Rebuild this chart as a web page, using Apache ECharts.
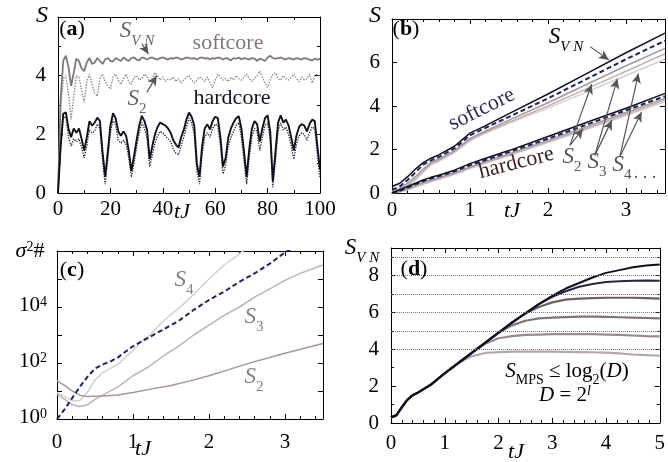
<!DOCTYPE html>
<html><head><meta charset="utf-8">
<script src="https://cdn.jsdelivr.net/npm/echarts@6/dist/echarts.min.js"></script>
<style>html,body{margin:0;padding:0;background:#fff}#c{width:668px;height:462px}</style>
</head><body><div id="c"></div>
<script>
// ---------- Panel (a) ----------
const tA = [0,1,2,3,4,5,6,7,8,9,10,11,12,13,14,15,16,17,18,19,20,21,22,23,24,25,26,27,28,29,30,31,32,33,34,35,36,37,38,39,40,41,42,43,44,45,46,47,48,49,50,51,52,53,54,55,56,57,58,59,60,61,62,63,64,65,66,67,68,69,70,71,72,73,74,75,76,77,78,79,80,81,82,83,84,85,86,87,88,89,90,91,92,93,94,95,96,97,98,99,100];
const softSvnA = [0,3.2,4.5,4.68,4.3,3.65,4.1,4.58,4.5,4.25,4.15,4.45,4.6,4.4,4.45,4.6,4.5,4.4,4.55,4.6,4.5,4.48,4.6,4.55,4.5,4.62,4.55,4.5,4.6,4.62,4.55,4.52,4.62,4.6,4.55,4.6,4.62,4.57,4.55,4.6,4.62,4.58,4.55,4.6,4.58,4.62,4.6,4.55,4.58,4.62,4.6,4.58,4.6,4.55,4.6,4.62,4.58,4.6,4.55,4.6,4.58,4.62,4.6,4.55,4.6,4.58,4.52,4.6,4.58,4.62,4.55,4.6,4.58,4.55,4.6,4.58,4.5,4.58,4.55,4.5,4.62,4.68,4.6,4.58,4.6,4.62,4.58,4.55,4.6,4.58,4.55,4.6,4.58,4.55,4.6,4.58,4.55,4.52,4.58,4.55,4.57];
const softS2A = [0,2.8,3.9,4.0,3.4,2.5,3.3,4.0,3.95,3.5,3.1,3.8,4.05,3.7,3.4,3.3,3.9,4.05,3.8,3.65,3.55,3.95,4.05,3.85,3.7,3.9,4.05,3.8,3.7,3.95,4.0,3.85,3.9,4.05,3.95,3.8,3.9,4.1,4.0,3.85,3.95,3.8,3.9,3.85,3.95,3.8,3.9,3.75,3.85,3.95,4.0,3.85,3.75,3.85,3.95,3.9,3.8,3.95,3.75,3.6,3.85,4.05,3.95,3.85,3.9,3.8,3.95,3.85,4.0,3.9,3.85,3.95,4.05,3.9,3.8,3.9,4.0,4.15,3.95,3.75,3.6,3.85,4.05,4.1,3.9,3.85,4.0,3.9,3.85,3.95,4.05,3.9,3.8,3.95,3.85,3.9,4.05,3.75,4.0,4.05,3.95];
const hardSvnA = [0,1.6,2.7,2.75,2.2,1.9,2.2,2.05,2.2,1.85,1.45,1.9,2.45,2.3,2.4,2.57,2.45,1.4,0.55,1.4,2.3,2.72,2.55,2.1,1.95,2.1,1.95,1.45,0.75,1.25,1.8,2.3,2.63,2.45,2.15,1.15,1.6,2.0,2.25,2.4,2.35,2.3,2.2,2.05,1.8,1.65,1.55,1.9,2.15,2.5,2.74,2.6,2.3,1.0,0.55,1.6,2.2,2.34,2.17,2.45,2.6,2.55,1.9,0.9,1.2,1.9,2.2,2.4,2.55,2.62,2.2,1.4,0.55,1.5,2.2,2.45,2.35,1.75,2.2,2.55,2.65,2.1,0.4,1.4,2.4,2.65,2.4,2.5,2.3,1.9,1.45,1.95,2.25,2.35,2.3,2.1,2.35,2.5,2.45,1.6,0.8];
const hardS2A = [0,1.4,2.55,2.6,1.9,1.6,1.85,1.75,1.85,1.55,1.2,1.6,2.15,2.05,2.1,2.35,2.2,1.1,0.3,1.15,2.05,2.5,2.3,1.8,1.7,1.8,1.65,1.2,0.55,1.0,1.55,2.05,2.4,2.2,1.85,0.9,1.3,1.7,1.95,2.1,2.05,1.95,1.85,1.75,1.5,1.35,1.3,1.6,1.9,2.25,2.55,2.4,2.0,0.75,0.3,1.3,1.9,2.05,1.9,2.2,2.35,2.3,1.6,0.65,0.95,1.6,1.9,2.1,2.3,2.4,1.9,1.1,0.3,1.2,1.9,2.2,2.1,1.45,1.9,2.3,2.4,1.8,0.2,1.1,2.1,2.4,2.15,2.25,2.0,1.6,1.15,1.65,1.95,2.05,2.0,1.8,2.05,2.25,2.2,1.3,0.5];

// ---------- Panel (b) ----------
const tB = [0,0.1,0.2,0.3,0.4,0.5,0.6,0.8,1.0,1.2,1.5,2.0,2.5,3.0,3.5];
const softSvnB = [0.3,0.45,0.75,1.1,1.4,1.6,1.75,2.15,2.75,3.1,3.65,4.55,5.5,6.45,7.35];
const softDashB = [0.15,0.3,0.6,0.95,1.3,1.5,1.65,2.05,2.65,3.0,3.5,4.35,5.25,6.15,7.0];
const softS2B = [0.1,0.2,0.45,0.75,1.1,1.4,1.55,1.95,2.5,2.85,3.35,4.15,5.0,5.85,6.65];
const softS3B = [0.05,0.15,0.35,0.65,1.0,1.35,1.5,1.9,2.45,2.8,3.25,4.0,4.8,5.6,6.4];
const softS4B = [0.05,0.1,0.3,0.6,0.95,1.3,1.45,1.85,2.4,2.75,3.2,3.9,4.65,5.4,6.15];
const hardSvnB = [0,0.15,0.3,0.45,0.6,0.72,0.82,1.05,1.35,1.6,1.95,2.6,3.25,3.9,4.58];
const hardDashB = [0,0.1,0.25,0.4,0.55,0.67,0.77,1.0,1.28,1.52,1.88,2.5,3.15,3.8,4.45];
const hardS2B = [0,0.08,0.2,0.35,0.48,0.6,0.7,0.93,1.2,1.45,1.8,2.42,3.05,3.7,4.35];
const hardS3B = [0,0.06,0.17,0.3,0.43,0.55,0.65,0.88,1.15,1.4,1.75,2.36,2.98,3.62,4.27];
const hardS4B = [0,0.05,0.15,0.27,0.4,0.52,0.62,0.85,1.12,1.37,1.72,2.32,2.93,3.56,4.2];

// ---------- Panel (c) ----------
const tCdash = [0,0.1,0.2,0.3,0.4,0.5,0.6,0.7,0.8,0.9,1.0,1.2,1.4,1.6,1.8,2.0,2.2,2.4,2.6,2.8,3.0,3.1];
const cDash = [1,2.2,5.6,14,32,63,89,112,158,251,398,794,1585,3162,7943,17783,35481,79433,158489,354813,891251,1258925];
const tCs4 = [0,0.1,0.2,0.3,0.4,0.5,0.6,0.8,1.0,1.1,1.2,1.4,1.6,1.8,2.0,2.2,2.4,2.5];
const cS4 = [8.9,6.3,4.5,4.5,8.9,25,45,89,282,562,891,3162,8913,28184,100000,316228,794328,1258925];
const tCs3 = [0,0.1,0.2,0.3,0.4,0.5,0.6,0.8,1.0,1.2,1.4,1.6,1.8,2.0,2.2,2.4,2.6,2.8,3.0,3.2,3.5];
const cS3 = [7.9,5.0,3.2,2.8,3.2,5.0,7.1,14,35,71,178,398,1000,2239,5012,10000,22387,44668,89125,158489,316228];
const tCs2 = [0,0.1,0.2,0.3,0.4,0.6,0.8,1.0,1.2,1.5,1.8,2.0,2.3,2.6,3.0,3.5];
const cS2 = [23,16,10,7.1,6.3,6.6,7.2,8.9,11.2,15.8,25,35,63,112,224,501];

// ---------- Panel (d) ----------
const tD = [0,0.1,0.2,0.3,0.4,0.5,0.75,1,1.25,1.5,1.75,2,2.25,2.5,2.75,3,3.25,3.5,3.75,4,4.25,4.5,4.75,5];
const dCurve1 = [0.3,0.42,0.85,1.25,1.5,1.65,2.1,2.7,3.25,3.8,4.35,4.9,5.45,5.95,6.45,6.9,7.3,7.6,7.9,8.15,8.3,8.45,8.55,8.6];
const dCurve2 = [0.3,0.42,0.85,1.25,1.5,1.65,2.1,2.7,3.25,3.8,4.35,4.9,5.45,5.95,6.45,6.85,7.15,7.4,7.55,7.65,7.7,7.72,7.73,7.72];
const dCurve3 = [0.3,0.42,0.85,1.25,1.5,1.65,2.1,2.7,3.25,3.8,4.35,4.9,5.45,5.95,6.3,6.55,6.7,6.75,6.78,6.8,6.8,6.8,6.78,6.75];
const dCurve4 = [0.3,0.42,0.85,1.25,1.5,1.65,2.1,2.7,3.25,3.8,4.35,4.9,5.3,5.55,5.68,5.72,5.75,5.78,5.78,5.76,5.74,5.72,5.7,5.68];
const dCurve5 = [0.3,0.42,0.85,1.25,1.5,1.65,2.1,2.7,3.25,3.8,4.3,4.6,4.72,4.78,4.8,4.82,4.83,4.83,4.82,4.8,4.78,4.75,4.72,4.7];
const dCurve6 = [0.3,0.42,0.85,1.25,1.5,1.65,2.1,2.7,3.25,3.62,3.8,3.85,3.87,3.88,3.88,3.87,3.86,3.85,3.84,3.82,3.78,3.72,3.68,3.65];
const dLevels = [4,5,6,7,8,9];

// ---------- helpers ----------
const FONT = 'Liberation Serif';
const pair = (xs, ys) => xs.map((x, i) => [x, ys[i]]);

function xAxes(grid, min, max, interval, minorSplit, labelMargin, labelOk) {
  const base = {
    gridIndex: grid, type: 'value', min, max, interval,
    axisLine: {show: true, onZero: false, lineStyle: {color: '#000', width: 1}},
    axisTick: {show: true, inside: true, length: 5, lineStyle: {color: '#000'}},
    minorTick: {show: minorSplit > 0, splitNumber: minorSplit || 5, length: 3, lineStyle: {color: '#000'}},
    splitLine: {show: false}, minorSplitLine: {show: false}
  };
  return [
    Object.assign({}, base, {position: 'bottom',
      axisLabel: {show: true, margin: labelMargin, fontFamily: FONT, fontSize: 21, color: '#000',
        formatter: v => labelOk(v) ? String(v) : ''}}),
    Object.assign({}, base, {position: 'top', axisLabel: {show: false}})
  ];
}
function yAxes(grid, min, max, interval, minorSplit, labelOk) {
  const base = {
    gridIndex: grid, type: 'value', min, max, interval,
    axisLine: {show: true, onZero: false, lineStyle: {color: '#000', width: 1}},
    axisTick: {show: true, inside: true, length: 5, lineStyle: {color: '#000'}},
    minorTick: {show: minorSplit > 0, splitNumber: minorSplit || 5, length: 3, lineStyle: {color: '#000'}},
    splitLine: {show: false}, minorSplitLine: {show: false}
  };
  return [
    Object.assign({}, base, {position: 'left',
      axisLabel: {show: true, margin: 12, fontFamily: FONT, fontSize: 21, color: '#000',
        formatter: v => labelOk(v) ? String(v) : ''}}),
    Object.assign({}, base, {position: 'right', axisLabel: {show: false}})
  ];
}
function logYAxes(grid) {
  const base = {
    gridIndex: grid, type: 'log', logBase: 10, min: 1, max: 1e6, splitNumber: 6,
    axisLine: {show: true, onZero: false, lineStyle: {color: '#000', width: 1}},
    axisTick: {show: true, inside: true, length: 5, lineStyle: {color: '#000'}},
    minorTick: {show: false},
    splitLine: {show: false}
  };
  return [
    Object.assign({}, base, {position: 'left',
      axisLabel: {show: true, margin: 10, color: '#000',
        formatter: v => {
          const e = Math.round(Math.log10(v));
          return (e === 0 || e === 2 || e === 4) ? '{b|10}{s|' + e + '}' : '';
        },
        rich: {
          b: {fontFamily: FONT, fontSize: 21, lineHeight: 24, verticalAlign: 'top'},
          s: {fontFamily: FONT, fontSize: 14, lineHeight: 14, verticalAlign: 'top'}
        }}}),
    Object.assign({}, base, {position: 'right', axisLabel: {show: false}})
  ];
}

const isInt = v => Math.abs(v - Math.round(v)) < 1e-9;
const xs = [].concat(
  xAxes(0, 0, 100, 20, 2, 6, v => true),
  xAxes(1, 0, 3.5, 1, 5, 7, v => isInt(v)),
  xAxes(2, 0, 3.5, 1, 5, 13, v => isInt(v)),
  xAxes(3, 0, 5, 1, 5, 10, v => isInt(v))
);
const ys = [].concat(
  yAxes(0, 0, 6, 2, 2, v => v < 6),
  yAxes(1, 0, 8, 2, 0, v => v < 8),
  logYAxes(2),
  yAxes(3, 0, 9.5, 2, 2, v => isInt(v) && v % 2 === 0)
);

function line(xi, yi, data, color, width, type, z) {
  return {type: 'line', xAxisIndex: xi, yAxisIndex: yi, data, showSymbol: false, symbol: 'none',
    clip: true, animation: false, silent: true, z: z || 2,
    lineStyle: {color, width, type: type || 'solid'}};
}
const arrowStyle = {silent: true, symbol: ['none', 'arrow'], symbolSize: [7, 10], animation: false,
  lineStyle: {color: '#555', width: 1.2, type: 'solid'}, label: {show: false}, emphasis: {disabled: true}};
const arr = (x1, y1, x2, y2) => [{coord: [x1, y1]}, {coord: [x2, y2]}];

const BLACK = '#0f0f22', NAVY = '#1b2462';
const G2 = '#a89494', G3 = '#c2b1b1', G4 = '#d9cdcd';

const series = [
  // (a)
  line(0, 0, pair(tA, softS2A), '#948585', 1.4, 'dotted', 2),
  line(0, 0, pair(tA, hardS2A), '#222230', 1.3, 'dotted', 2),
  Object.assign(line(0, 0, pair(tA, softSvnA), '#857676', 1.8, 'solid', 3), {
    markLine: Object.assign({}, arrowStyle, {data: [arr(32, 5.09, 34.5, 4.74), arr(33.9, 3.43, 37.7, 4.0)]})
  }),
  line(0, 0, pair(tA, hardSvnA), BLACK, 1.9, 'solid', 3),
  // (b)
  line(2, 2, pair(tB, softS4B), G4, 1.5), line(2, 2, pair(tB, softS3B), G3, 1.5), line(2, 2, pair(tB, softS2B), G2, 1.5),
  line(2, 2, pair(tB, hardS4B), G4, 1.5), line(2, 2, pair(tB, hardS3B), G3, 1.5), line(2, 2, pair(tB, hardS2B), G2, 1.5),
  line(2, 2, pair(tB, softDashB), NAVY, 2, [5, 3], 3),
  line(2, 2, pair(tB, hardDashB), NAVY, 2, [5, 3], 3),
  Object.assign(line(2, 2, pair(tB, softSvnB), BLACK, 1.5, 'solid', 4), {
    markLine: Object.assign({}, arrowStyle, {data: [
      arr(2.54, 6.73, 2.78, 6.12),
      arr(2.28, 2.19, 2.56, 5.0), arr(2.28, 2.19, 2.45, 2.95),
      arr(2.6, 1.73, 2.89, 5.25), arr(2.6, 1.73, 2.82, 3.35),
      arr(2.92, 1.65, 3.16, 5.5), arr(2.92, 1.65, 3.2, 3.72)
    ]})
  }),
  line(2, 2, pair(tB, hardSvnB), BLACK, 1.5, 'solid', 4),
  // (c)
  line(4, 4, pair(tCs4, cS4), G4, 1.5),
  line(4, 4, pair(tCs3, cS3), G3, 1.5),
  line(4, 4, pair(tCs2, cS2), G2, 1.5),
  line(4, 4, pair(tCdash, cDash), NAVY, 2, [5, 3], 3),
  // (d)
  Object.assign(line(6, 6, pair(tD, dCurve6), '#b6a6a6', 2.2), {
    markLine: {silent: true, symbol: ['none', 'none'], animation: false, label: {show: false},
      lineStyle: {color: '#777', width: 1, type: 'dotted'}, data: dLevels.map(v => ({yAxis: v}))}
  }),
  line(6, 6, pair(tD, dCurve5), '#9a8a8a', 2.2),
  line(6, 6, pair(tD, dCurve4), '#837272', 2.2),
  line(6, 6, pair(tD, dCurve3), '#705f5f', 2.2),
  line(6, 6, pair(tD, dCurve2), '#26263f', 2, 'solid', 3),
  line(6, 6, pair(tD, dCurve1), BLACK, 2, 'solid', 4)
];

// text annotations
const mathRich = (color, size) => ({
  i: {fontFamily: FONT, fontStyle: 'italic', fontSize: size, lineHeight: size + 6, verticalAlign: 'top', fill: color, color},
  n: {fontFamily: FONT, fontSize: size, lineHeight: size + 6, verticalAlign: 'top', fill: color, color},
  b: {fontFamily: FONT, fontWeight: 'bold', fontSize: size, lineHeight: size + 6, verticalAlign: 'top', fill: color, color},
  si: {fontFamily: FONT, fontStyle: 'italic', fontSize: Math.round(size * 0.65), lineHeight: 16, padding: [Math.round(size * 0.6), 0, 0, 0], verticalAlign: 'top', fill: color, color},
  sn: {fontFamily: FONT, fontSize: Math.round(size * 0.65), lineHeight: 16, padding: [Math.round(size * 0.6), 0, 0, 0], verticalAlign: 'top', fill: color, color},
  pi: {fontFamily: FONT, fontStyle: 'italic', fontSize: Math.round(size * 0.65), lineHeight: 16, verticalAlign: 'top', fill: color, color},
  pn: {fontFamily: FONT, fontSize: Math.round(size * 0.65), lineHeight: 16, verticalAlign: 'top', fill: color, color}
});
function txt(x, y, text, color, size, rot, align) {
  return {type: 'text', x, y, rotation: rot || 0, silent: true, z: 100,
    style: {text, fill: color, align: align || 'center', verticalAlign: 'middle', rich: mathRich(color, size),
      fontFamily: FONT, fontSize: size}};
}

const graphic = [
  // (a)
  txt(72, 32, '{n|(}{b|a}{n|)}', '#000', 22),
  txt(42, 19, '{i|S}', '#000', 24),
  txt(137, 34, '{i|S}{si|V N}', '#6e6262', 23),
  txt(228, 46, '{n|softcore}', '#857676', 22),
  txt(137, 102, '{i|S}{sn|2}', '#6e6262', 23),
  txt(232, 101, '{n|hardcore}', '#141428', 22),
  txt(182, 215, '{i|tJ}', '#000', 22),
  // (b)
  txt(406, 32, '{n|(}{b|b}{n|)}', '#000', 22),
  txt(375, 19, '{i|S}', '#000', 24),
  txt(566, 40, '{i|S}{si|V N}', '#000', 23),
  txt(483, 112, '{n|softcore}', '#1f2a5c', 22, 0.46),
  txt(517, 166, '{n|hardcore}', '#3e1c1c', 22, 0.25),
  txt(572, 160, '{i|S}{sn|2}', '#5e5252', 23),
  txt(597, 165, '{i|S}{sn|3}', '#5e5252', 23),
  txt(622, 168, '{i|S}{sn|4}', '#5e5252', 23),
  txt(645, 176, '{n|. . .}', '#5e5252', 18),
  txt(512, 214, '{i|tJ}', '#000', 22),
  // (c)
  txt(72, 273, '{n|(}{b|c}{n|)}', '#000', 22),
  txt(30, 254, '{i|σ}{pn|2}{n|#}', '#000', 22),
  txt(184, 283, '{i|S}{sn|4}', '#8a7c7c', 23),
  txt(254, 320, '{i|S}{sn|3}', '#8a7c7c', 23),
  txt(254, 380, '{i|S}{sn|2}', '#8a7c7c', 23),
  txt(143, 452, '{i|tJ}', '#000', 22),
  // (d)
  txt(414, 272, '{n|(}{b|d}{n|)}', '#000', 22),
  txt(362, 251, '{i|S}{si|V N}', '#000', 23),
  txt(567, 374, '{i|S}{sn|MPS}{n| ≤ log}{sn|2}{n|(}{i|D}{n|)}', '#000', 21),
  txt(565, 398, '{i|D}{n| = 2}{pi|l}', '#000', 21),
  txt(516, 455, '{i|tJ}', '#000', 22)
];

const chart = echarts.init(document.getElementById('c'), null, {renderer: 'canvas'});
chart.setOption({
  backgroundColor: '#fff',
  animation: false,
  grid: [
    {left: 58, top: 17, width: 262, height: 176},
    {left: 392, top: 19, width: 273, height: 174},
    {left: 57, top: 251, width: 266, height: 168},
    {left: 391, top: 248, width: 270, height: 175}
  ],
  xAxis: xs,
  yAxis: ys,
  series,
  graphic
});
</script></body></html>
